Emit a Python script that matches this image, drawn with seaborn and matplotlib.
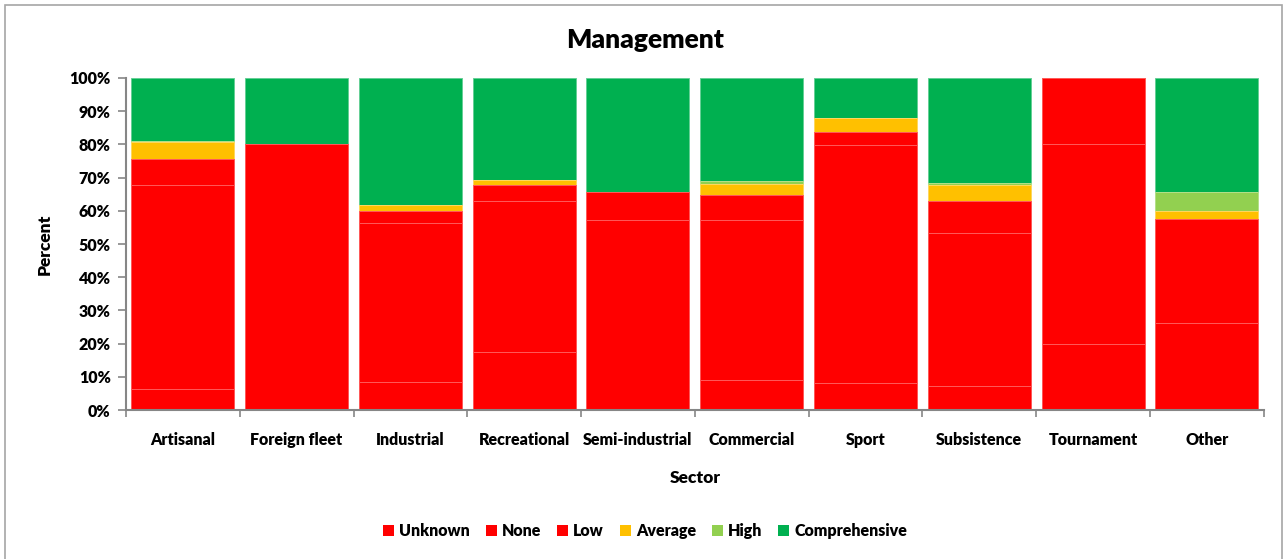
import pandas as pd
import matplotlib
matplotlib.use("Agg")
import matplotlib.pyplot as plt
import seaborn as sns
from matplotlib.patches import Patch, Rectangle
from matplotlib.ticker import FixedLocator, PercentFormatter

sectors = ["Artisanal", "Foreign fleet", "Industrial", "Recreational", "Semi-industrial",
           "Commercial", "Sport", "Subsistence", "Tournament", "Other"]
levels = ["Unknown", "None", "Low", "Average", "High", "Comprehensive"]

# percent of each management level per sector
unknown       = [6.2, 0.0, 8.3, 17.4, 0.0, 8.9, 8.0, 7.1, 20.0, 0.0]
none          = [61.5, 80.0, 47.9, 45.6, 57.1, 48.2, 71.7, 46.1, 60.0, 26.1]
low           = [7.9, 0.0, 3.7, 4.9, 8.7, 7.8, 4.1, 9.8, 20.0, 31.4]
average       = [5.1, 0.0, 1.7, 1.4, 0.0, 3.1, 4.0, 4.7, 0.0, 2.3]
high          = [0.3, 0.0, 0.0, 0.0, 0.0, 1.0, 0.2, 0.8, 0.0, 6.0]
comprehensive = [19.0, 20.0, 38.4, 30.7, 34.2, 31.0, 12.0, 31.5, 0.0, 34.2]

colors = {"Unknown": "#ff0000", "None": "#ff0000", "Low": "#ff0000",
          "Average": "#ffc000", "High": "#92d050", "Comprehensive": "#00b050"}
edges = {"Unknown": "#ff5a5a", "None": "#ff5a5a", "Low": "#ff5a5a",
         "Average": "#ffd860", "High": "#b5e08a", "Comprehensive": "#66cf96"}

df = pd.DataFrame({"sector": sectors, "Unknown": unknown, "None": none, "Low": low,
                   "Average": average, "High": high, "Comprehensive": comprehensive})
cum = df[levels].cumsum(axis=1)
cum = cum.div(cum["Comprehensive"], axis=0) * 100
cum["sector"] = sectors

plt.rcParams["font.family"] = ["Lato", "DejaVu Sans"]
fig = plt.figure(figsize=(12.85, 5.59), dpi=100)
ax = fig.add_axes([0.098, 0.2665, 0.8855, 0.594])

# draw the cumulative tops from the highest level down so lower layers overlay
for lvl in reversed(levels):
    sns.barplot(data=cum, x="sector", y=lvl, order=sectors, color=colors[lvl],
                width=0.905, saturation=1, edgecolor=edges[lvl], linewidth=0.7, ax=ax)

ax.set_xlim(-0.5, len(sectors) - 0.5)
ax.set_ylim(0, 100)
ax.yaxis.set_major_locator(FixedLocator(range(0, 101, 10)))
ax.yaxis.set_major_formatter(PercentFormatter(decimals=0))
ax.xaxis.set_minor_locator(FixedLocator([i - 0.5 for i in range(len(sectors) + 1)]))
ax.tick_params(axis="x", which="major", length=0, pad=16)
ax.tick_params(axis="x", which="minor", length=5, color="#868686", width=1.2)
ax.tick_params(axis="y", length=6, color="#868686", width=1.2, pad=5)
for lab in ax.get_xticklabels() + ax.get_yticklabels():
    lab.set_fontweight("heavy")
    lab.set_fontsize(11.5)
for s in ["top", "right"]:
    ax.spines[s].set_visible(False)
for s in ["left", "bottom"]:
    ax.spines[s].set_color("#868686")
    ax.spines[s].set_linewidth(1.5)
ax.set_xlabel("Sector", fontsize=12.5, fontweight="heavy", labelpad=16)
ax.set_ylabel("Percent", fontsize=12.5, fontweight="heavy", labelpad=12)

fig.text(0.502, 0.928, "Management", ha="center", va="center", fontsize=19, fontweight="heavy")

handles = [Patch(facecolor=colors[l], edgecolor="none", label=l) for l in levels]
fig.legend(handles=handles, loc="center", bbox_to_anchor=(0.502, 0.05), ncol=6, frameon=False,
           prop={"weight": "heavy", "size": 11.5}, handlelength=0.7, handleheight=0.7,
           handletextpad=0.3, columnspacing=1.0)

fig.patches.append(Rectangle((0.004, -0.02), 0.994, 1.011, transform=fig.transFigure,
                             fill=False, edgecolor="#a6a6a6", linewidth=1.2))

fig.savefig("out.png", dpi=100)
